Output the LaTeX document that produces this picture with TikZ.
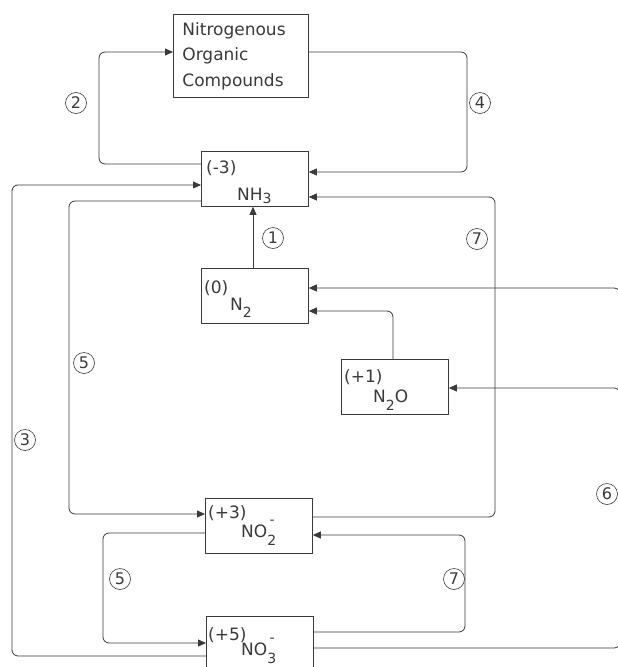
\documentclass[tikz,border=0pt]{standalone}
\usepackage{fontspec}
\setmainfont{DejaVu Sans}
\usetikzlibrary{arrows.meta}
\definecolor{ink}{HTML}{3A3A3A}
\newcommand{\sbx}[2][-8pt]{\raisebox{#1}{\fontsize{14}{14}\selectfont #2}}
\newcommand{\ion}[2]{\rlap{\sbx{#1}}\raisebox{13pt}{\fontsize{14}{14}\selectfont\,#2}}
\begin{document}
\begin{tikzpicture}[x=1pt,y=-1pt,
  box/.style={draw=ink, line width=0.8pt, minimum width=107pt, minimum height=55pt, anchor=north west, inner sep=0pt},
  lbl/.style={anchor=base west, inner sep=0pt, text=ink, font=\fontsize{17}{20}\selectfont},
  arr/.style={draw=ink, line width=0.8pt, rounded corners=6pt, -{Triangle[length=8pt,width=7pt]}},
  circ/.style={circle, draw=ink, line width=0.6pt, fill=white, minimum size=21pt, inner sep=0pt, text=ink, font=\fontsize{16}{16}\selectfont}]
\useasboundingbox (0,0) rectangle (618,667);
\fill[white] (0,0) rectangle (618,667);
\clip (0,0) rectangle (618,667);

% boxes
\node[box, minimum width=135pt, minimum height=83pt, align=left, text width=117pt, inner xsep=9pt, text=ink, font=\fontsize{17}{25.5}\selectfont] (oc) at (173,14) {Nitrogenous\\Organic\\Compounds};
\node[box] (nh3) at (201,151) {};
\node[box] (n2)  at (201,268) {};
\node[box] (n2o) at (341,359) {};
\node[box] (no2) at (205,498) {};
\node[box] (no3) at (206,616) {};

% box labels
\node[lbl] (nh3a) at (206,173) {(-3)};
\node[lbl] (nh3b) at (237,200) {NH\sbx[-3pt]{3}};
\node[lbl] (n2a)  at (204,293) {(0)};
\node[lbl] (n2b)  at (230,310) {N\sbx[-7pt]{2}};
\node[lbl] (n2oa) at (344,382) {(+1)};
\node[lbl] (n2ob) at (373,402) {N\sbx{2}O};
\node[lbl] (no2a) at (208,518) {(+3)};
\node[lbl] (no2b) at (241,537) {NO\ion{2}{-}};
\node[lbl] (no3a) at (208,640) {(+5)};
\node[lbl] (no3b) at (241,655) {NO\ion{3}{-}};

% connectors
\draw[arr] (nh3.west |- 0,164) -- (99,164) -- (99,52) -- (oc.west |- 0,52);
\draw[arr] (oc.east |- 0,52) -- (467,52) -- (467,172) -- (nh3.east |- 0,172);
\draw[arr] (no3.west |- 0,656) -- (12,656) -- (12,185) -- (nh3.west |- 0,185);
\draw[arr] (nh3.west |- 0,201) -- (69,201) -- (69,514) -- (no2.west |- 0,514);
\draw[arr] (n2.north -| 253,0) -- (nh3.south -| 253,0);
\draw[arr] (no2.east |- 0,517) -- (495,517) -- (495,197) -- (nh3.east |- 0,197);
\draw[arr] (n2o.north -| 393,0) -- (393,311) -- (n2.east |- 0,311);
\coordinate (rt) at (620,648);
\draw[arr] (no3.east |- rt) -- (rt) -- (620,288) -- (n2.east |- 0,288);
\draw[arr] (620,400) -- (620,388) -- (n2o.east |- 0,388);
\draw[arr] (no2.west |- 0,533) -- (103,533) -- (103,643) -- (no3.west |- 0,643);
\draw[arr] (no3.east |- 0,632) -- (465,632) -- (465,535) -- (no2.east |- 0,535);

% step numbers
\node[circ] (c1)  at (273,238) {1};
\node[circ] (c2)  at (76,103) {2};
\node[circ] (c3)  at (25,440) {3};
\node[circ] (c4)  at (480,103) {4};
\node[circ] (c5a) at (84,363) {5};
\node[circ] (c5b) at (120,579) {5};
\node[circ] (c6)  at (607,494) {6};
\node[circ] (c7a) at (477,239) {7};
\node[circ] (c7b) at (454,579) {7};
\end{tikzpicture}
\end{document}
